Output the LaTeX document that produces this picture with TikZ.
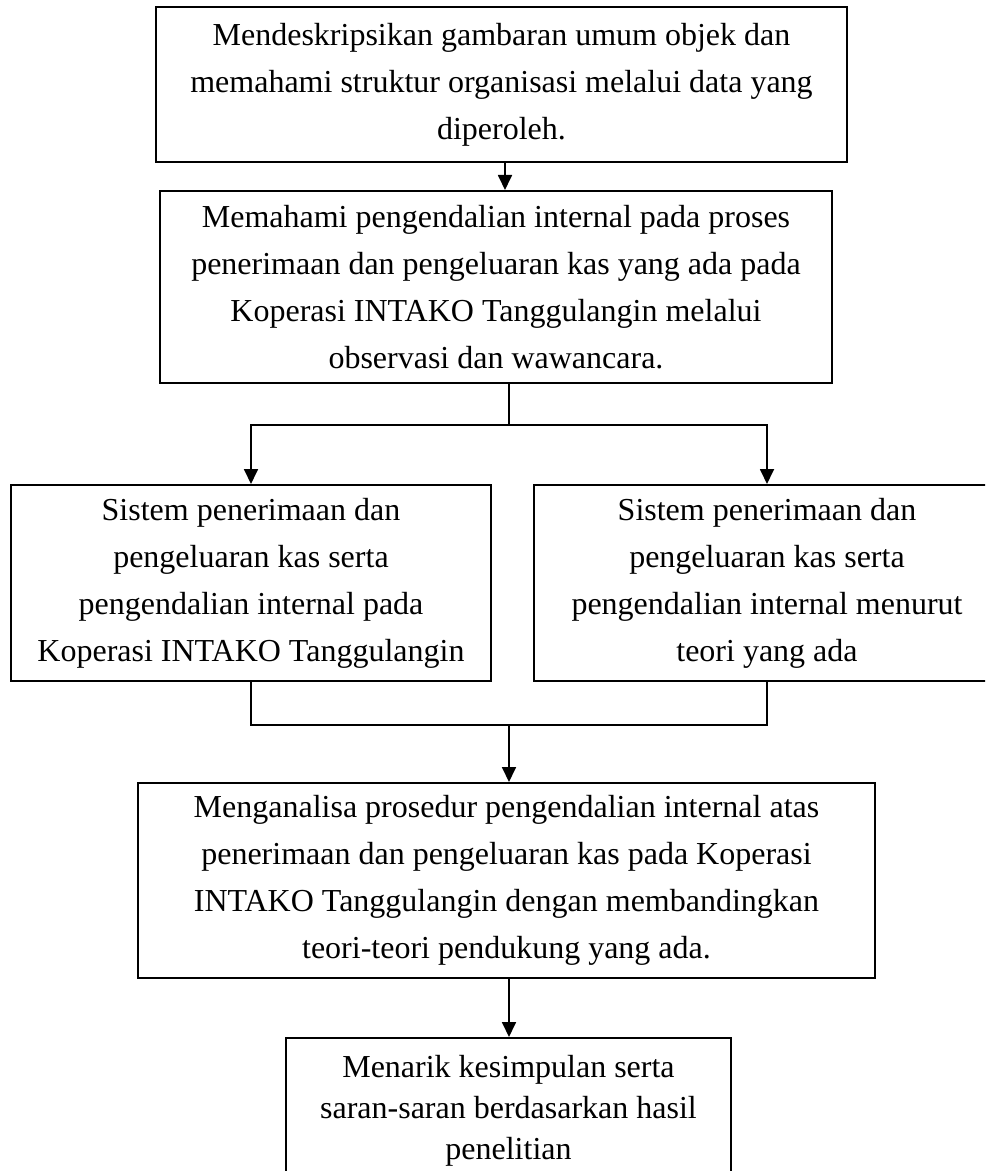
\documentclass[tikz,border=0pt]{standalone}
\usepackage{fontspec}
\setmainfont{Liberation Serif}
\usetikzlibrary{arrows.meta, positioning, calc}
\tikzset{
  box/.style={rectangle, draw=black, line width=1pt, align=center,
    inner sep=2pt, font=\fontsize{16pt}{23.5pt}\selectfont},
  arrow/.style={-{Triangle[length=7.5pt, width=7pt]}, line width=0.9pt},
  link/.style={line width=0.8pt}
}

\begin{document}
\begin{tikzpicture}[node distance=13.5pt]
  \clip (-250.75pt,42.25pt) rectangle (241.75pt,-543.25pt);
  \node[box, minimum width=345.5pt, minimum height=77.5pt] (desc)
    {Mendeskripsikan gambaran umum objek dan\\memahami struktur organisasi melalui data yang\\diperoleh.};
  \node[box, below=13.5pt of desc, xshift=-2.75pt, minimum width=336pt,
    minimum height=96pt] (ctrl)
    {Memahami pengendalian internal pada proses\\penerimaan dan pengeluaran kas yang ada pada\\Koperasi INTAKO Tanggulangin melalui\\observasi dan wawancara.};
  \node[box, below=50pt of ctrl, xshift=-122.5pt, minimum width=240pt,
    minimum height=98pt] (koperasi)
    {Sistem penerimaan dan\\pengeluaran kas serta\\pengendalian internal pada\\Koperasi INTAKO Tanggulangin};
  \node[box, right=20.5pt of koperasi, minimum width=233pt,
    minimum height=98pt] (teori)
    {Sistem penerimaan dan\\pengeluaran kas serta\\pengendalian internal menurut\\teori yang ada};
  \node[box, below=199pt of ctrl, xshift=5.25pt, minimum width=368.5pt,
    minimum height=97.5pt] (analisa)
    {Menganalisa prosedur pengendalian internal atas\\penerimaan dan pengeluaran kas pada Koperasi\\INTAKO Tanggulangin dengan membandingkan\\teori-teori pendukung yang ada.};
  \node[box, below=29pt of analisa, xshift=1pt, minimum width=222.5pt,
    minimum height=73pt, font=\fontsize{16pt}{20.5pt}\selectfont] (simpul)
    {Menarik kesimpulan serta\\saran-saran berdasarkan hasil\\penelitian};
  % connectors
  \coordinate (split) at ($(ctrl.south)+(6.5pt,-20.5pt)$);
  \coordinate (merge) at ($(koperasi.south)+(0,-21.5pt)$);
  \draw[arrow] ($(desc.south)+(1.75pt,0)$) -- ($(desc.south |- ctrl.north)+(1.75pt,0)$);
  \draw[link] (ctrl.south -| split) -- (split);
  \draw[arrow] (split) -| (koperasi.north);
  \draw[arrow] (split) -| (teori.north);
  \draw[link] (koperasi.south) -- (merge) -| (teori.south);
  \draw[arrow] (split |- merge) -- (split |- analisa.north);
  \draw[arrow] (split |- analisa.south) -- (split |- simpul.north);
\end{tikzpicture}
\end{document}
